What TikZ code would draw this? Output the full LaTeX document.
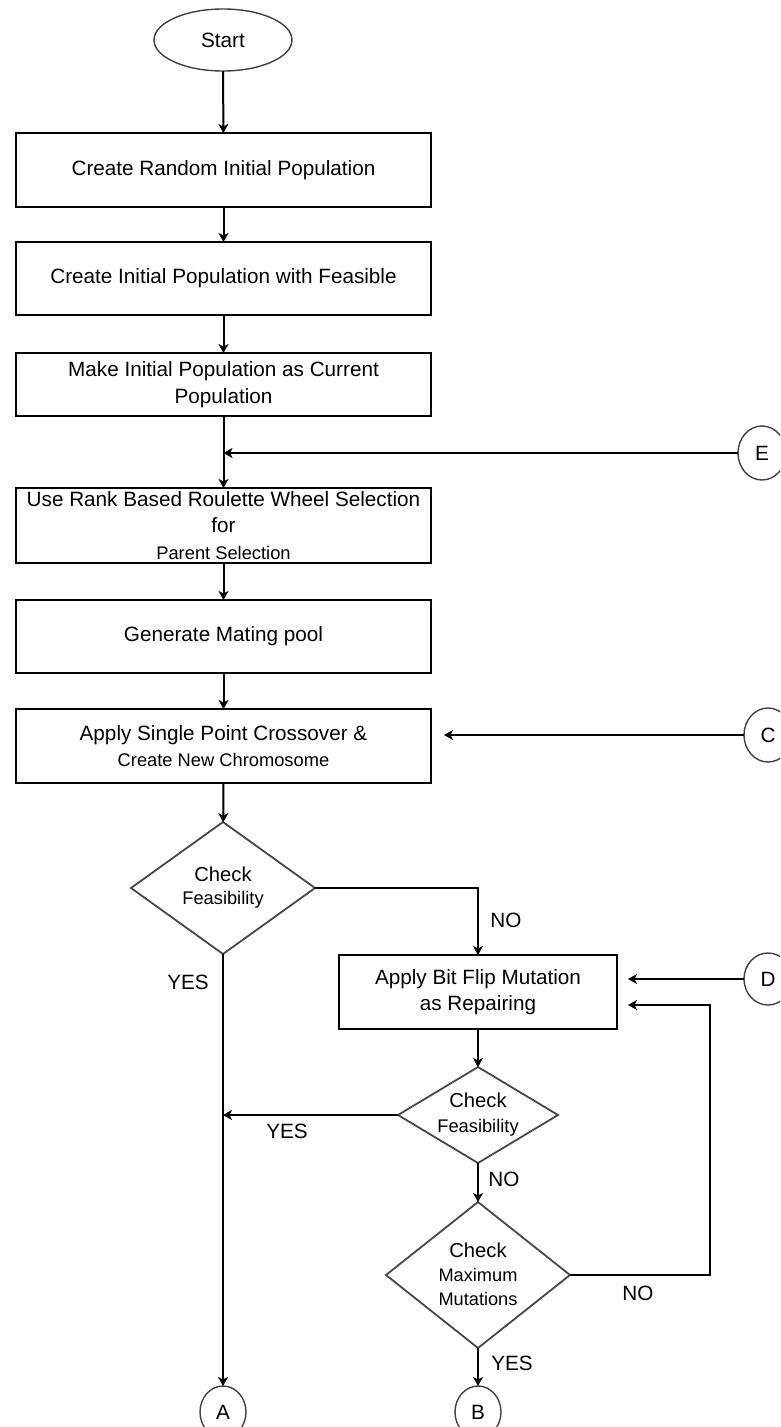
\documentclass[tikz,border=0pt]{standalone}
\usepackage{fontspec}
\setmainfont{Liberation Sans}
\usetikzlibrary{shapes.geometric,arrows.meta}

\begin{document}
\begin{tikzpicture}[x=1pt,y=-1pt,
  every node/.style={inner sep=0pt, outer sep=0pt},
  bigtxt/.style={font=\fontsize{20.7}{26.5}\selectfont, align=center},
  procbox/.style={draw=black, line width=2pt, rectangle, minimum width=415pt, bigtxt},
  decision/.style={draw=black!72, line width=1.8pt, diamond},
  term/.style={draw=black!75, line width=1.4pt, ellipse},
  connector/.style={draw=black!75, line width=1.4pt, ellipse, bigtxt},
  flow/.style={line width=2pt, -{Stealth[length=9pt,width=10pt,inset=2.5pt]}},
  lbl/.style={bigtxt, anchor=center}
]
\useasboundingbox (0,0) rectangle (780,1427);
\clip (0,0) rectangle (780,1427);

% terminal
\node[term, minimum width=138pt, minimum height=62pt, bigtxt] (start) at (223,40) {Start};

% main column of process boxes
\node[procbox, minimum height=74pt] (b1) at (223.5,170) {Create Random Initial Population};
\node[procbox, minimum height=73pt] (b2) at (223.5,278.5) {Create Initial Population with Feasible};
\node[procbox, minimum height=63pt] (b3) at (223.5,384.5) {Make Initial Population as Current\\Population};
\node[procbox, minimum height=75pt] (b4) at (223.5,525.5)
  {Use Rank Based Roulette Wheel Selection\\for\\{\fontsize{18.3}{26.5}\selectfont Parent Selection}};
\node[procbox, minimum height=73pt] (b5) at (223.5,636.5) {Generate Mating pool};
\node[procbox, minimum height=74pt] (b6) at (223.5,746)
  {Apply Single Point Crossover \&\\{\fontsize{18.3}{26.5}\selectfont Create New Chromosome}};

% first feasibility check
\node[decision, minimum width=184pt, minimum height=132pt] (d1) at (223,888) {};
\node[bigtxt, font=\fontsize{20.2}{23}\selectfont] (d1t) at (223,888)
  {Check\\{\fontsize{18.3}{23}\selectfont Feasibility}};

% repair branch
\node[procbox, minimum width=278pt, minimum height=74pt] (b7) at (478,992) {Apply Bit Flip Mutation\\as Repairing};
\node[decision, minimum width=160pt, minimum height=96pt] (d2) at (478,1115) {};
\node[bigtxt, font=\fontsize{20.2}{25}\selectfont] (d2t) at (478,1115)
  {Check\\{\fontsize{18.3}{25}\selectfont Feasibility}};
\node[decision, minimum width=184pt, minimum height=146pt] (d3) at (478,1275) {};
\node[bigtxt, font=\fontsize{20.2}{24}\selectfont] (d3t) at (478,1274)
  {Check\\{\fontsize{18.2}{24}\selectfont Maximum}\\{\fontsize{18.2}{24}\selectfont Mutations}};

% off-page connectors
\node[connector, minimum width=48pt, minimum height=54pt] (E) at (762,453) {E};
\node[connector, minimum width=48pt, minimum height=54pt] (C) at (768,735) {C};
\node[connector, minimum width=48pt, minimum height=52pt] (D) at (768,979) {D};
\node[connector, minimum width=46pt, minimum height=52pt] (A) at (223,1412) {A};
\node[connector, minimum width=46pt, minimum height=52pt] (B) at (478,1412) {B};

% helper points for arrow ends off a box edge
\coordinate (cEnd) at (444,735);
\coordinate (dEnd) at (628,979);
\coordinate (loopTop) at (710,1005);
\coordinate (loopEnd) at (628,1005);

% main flow
\draw[flow] (start) -- (b1);
\draw[flow] (b1) -- (b2);
\draw[flow] (b2) -- (b3);
\draw[flow] (b3) -- (b4);
\draw[flow] (E) -- (E -| b3);
\draw[flow] (b4) -- (b5);
\draw[flow] (b5) -- (b6);
\draw[flow] (C) -- (cEnd);
\draw[flow] (b6) -- (d1);
\draw[flow] (d1.east) -| (b7.north);
\draw[flow] (d1.south) -- (A.north);
\draw[flow] (D) -- (dEnd);
\draw[flow] (b7) -- (d2);
\draw[flow] (d2.west) -- (d2.west -| d1.south);
\draw[flow] (d2.south) -- (d3.north);
\draw[flow] (d3.east) -| (loopTop) -- (loopEnd);
\draw[flow] (d3.south) -- (B.north);

% branch labels
\node[lbl] (no1) at (506,920) {NO};
\node[lbl] (yes1) at (188,982) {YES};
\node[lbl] (yes2) at (287,1131) {YES};
\node[lbl] (no2) at (504,1179) {NO};
\node[lbl] (no3) at (638,1293) {NO};
\node[lbl] (yes3) at (512,1363) {YES};
\end{tikzpicture}
\end{document}
